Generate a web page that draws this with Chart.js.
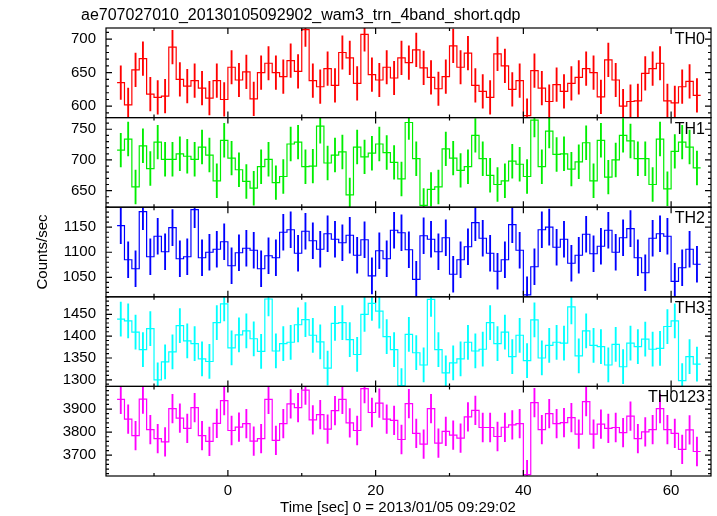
<!DOCTYPE html>
<html>
<head>
<meta charset="utf-8">
<script src="https://cdn.jsdelivr.net/npm/chart.js@4"></script>
<style>
  html, body { margin: 0; padding: 0; background: #fff; }
  canvas { display: block; }
</style>
</head>
<body>
<canvas id="grafico" width="717" height="516"></canvas>
<script>
const titulo = 'ae707027010_20130105092902_wam3_trn_4band_short.qdp'
const rotuloX = 'Time [sec] 0 = 2013/01/05 09:29:02'
const rotuloY = 'Counts/sec'

// bins de 1 s, o primeiro comeca em -15 s
const inicioBin = -15
const larguraBin = 1

const th0 = [635, 602, 654, 671, 618, 613, 615, 688, 640, 630, 638, 627, 612, 638, 610, 658, 639, 651, 611, 650,
  664, 650, 644, 668, 652, 714, 638, 629, 656, 631, 680, 672, 634, 707, 647, 639, 658, 642, 672, 665,
  684, 657, 643, 626, 644, 690, 658, 679, 631, 622, 613, 678, 660, 625, 638, 586, 653, 627, 607, 632,
  622, 634, 643, 656, 650, 614, 669, 639, 600, 607, 608, 649, 656, 664, 608, 605, 629, 637, 616]
const th1 = [716, 734, 656, 723, 686, 729, 701, 701, 710, 706, 701, 721, 708, 666, 732, 703, 684, 665, 654, 689,
  701, 663, 673, 726, 729, 689, 690, 755, 695, 708, 713, 643, 721, 705, 711, 726, 712, 696, 669, 761,
  702, 626, 652, 656, 718, 703, 683, 689, 740, 702, 675, 660, 666, 698, 693, 673, 765, 689, 747, 709,
  710, 685, 697, 728, 666, 732, 672, 700, 740, 731, 702, 702, 660, 734, 653, 714, 729, 721, 687]
const th2 = [1153, 1085, 1067, 1181, 1091, 1132, 1101, 1149, 1087, 1091, 1185, 1089, 1100, 1106, 1121, 1073, 1099, 1108, 1104, 1067,
  1093, 1089, 1140, 1145, 1098, 1142, 1123, 1106, 1137, 1126, 1119, 1134, 1094, 1125, 1053, 1103, 1087, 1144, 1139, 1105,
  1046, 1133, 1126, 1101, 1129, 1056, 1085, 1111, 1159, 1128, 1098, 1062, 1085, 1155, 1104, 1015, 1071, 1145, 1150, 1110,
  1126, 1078, 1094, 1136, 1097, 1112, 1144, 1100, 1129, 1147, 1089, 1059, 1128, 1137, 1132, 1042, 1069, 1106, 1076]
const th3 = [1439, 1435, 1409, 1369, 1417, 1300, 1341, 1364, 1424, 1389, 1383, 1348, 1342, 1431, 1474, 1373, 1403, 1412, 1394, 1365,
  1485, 1366, 1383, 1386, 1426, 1438, 1402, 1387, 1327, 1429, 1431, 1392, 1358, 1450, 1475, 1457, 1399, 1369, 1287, 1404,
  1362, 1334, 1484, 1369, 1316, 1339, 1348, 1386, 1366, 1370, 1431, 1383, 1409, 1353, 1402, 1344, 1437, 1350, 1379, 1386,
  1384, 1467, 1355, 1412, 1379, 1376, 1334, 1381, 1330, 1384, 1376, 1393, 1370, 1372, 1422, 1435, 1298, 1353, 1336]
const th0123 = [3942, 3856, 3785, 3943, 3811, 3772, 3758, 3902, 3861, 3816, 3906, 3785, 3760, 3838, 3936, 3807, 3822, 3837, 3761, 3772,
  3942, 3764, 3837, 3922, 3906, 3982, 3853, 3876, 3813, 3893, 3942, 3840, 3807, 3988, 3885, 3926, 3856, 3851, 3768, 3923,
  3795, 3748, 3902, 3752, 3803, 3787, 3774, 3866, 3894, 3820, 3820, 3781, 3821, 3831, 3837, 3616, 3928, 3811, 3880, 3837,
  3841, 3863, 3791, 3932, 3791, 3835, 3816, 3820, 3798, 3869, 3772, 3801, 3811, 3902, 3811, 3795, 3725, 3810, 3716]

const erros = [25, 27.5, 36, 39, 62]

const nomesPaineis = ['TH0', 'TH1', 'TH2', 'TH3', 'TH0123']
const cores = ['#ff0000', '#00ee00', '#0000ff', '#00ffff', '#ff00ff']
const limitesY = [[583, 716.5], [623, 769], [1011, 1190], [1285, 1490], [3610, 3998]]
const passosY = [50, 50, 50, 50, 100]
const menoresY = [10, 10, 10, 10, 20]
const limitesX = [-16.5, 65.4]
const passoX = 20
const menorX = 10

const fonte = "'Liberation Sans', Arial, Helvetica, sans-serif"
const series = [th0, th1, th2, th3, th0123]

const datasets = []
const escalas = {
  x: {
    type: 'linear',
    min: limitesX[0],
    max: limitesX[1],
    offset: false,
    grid: { display: false, drawTicks: false },
    border: { display: false },
    ticks: { stepSize: passoX, includeBounds: false, color: '#000', font: { family: fonte, size: 15 }, padding: 6, maxRotation: 0 },
    afterFit: function (escala) { escala.height = 40 }
  }
}

// no empilhamento do chart.js o ultimo eixo declarado fica em cima,
// entao os eixos vao do TH0123 (baixo) ate o TH0 (topo)
for (let p = series.length - 1; p >= 0; p--) {
  escalas['y' + p] = {
    type: 'linear',
    position: 'left',
    stack: 'paineis',
    stackWeight: 1,
    offset: false,
    min: limitesY[p][0],
    max: limitesY[p][1],
    grid: { display: false, drawTicks: false },
    border: { display: false },
    ticks: {
      stepSize: passosY[p],
      includeBounds: false,
      autoSkip: false,
      color: '#000',
      font: { family: fonte, size: 15 },
      padding: 10,
      callback: function (valor) { return String(valor) }
    },
    afterFit: function (escala) { escala.width = 106 }
  }
}

for (let p = 0; p < series.length; p++) {
  const valores = series[p]
  const eixo = 'y' + p

  const degraus = valores.map((v, i) => ({ x: inicioBin + i * larguraBin, y: v }))
  degraus.push({ x: inicioBin + valores.length * larguraBin, y: valores[valores.length - 1] })

  datasets.push({
    type: 'line',
    label: nomesPaineis[p],
    yAxisID: eixo,
    data: degraus,
    stepped: 'before',
    borderColor: cores[p],
    borderWidth: 1.2,
    pointRadius: 0,
    fill: false
  })

  datasets.push({
    type: 'bar',
    label: nomesPaineis[p] + ' err',
    yAxisID: eixo,
    grouped: false,
    barThickness: 1.2,
    backgroundColor: cores[p],
    data: valores.map((v, i) => ({ x: inicioBin + (i + 0.5) * larguraBin, y: [v - erros[p], v + erros[p]] }))
  })
}

// cada serie fica recortada dentro do seu painel
const recortePainel = {
  id: 'recortePainel',
  beforeDatasetDraw(chart, args) {
    const ctx = chart.ctx
    const area = chart.chartArea
    const s = args.meta.yScale
    ctx.save()
    ctx.beginPath()
    ctx.rect(area.left, s.top, area.right - area.left, s.bottom - s.top)
    ctx.clip()
  },
  afterDatasetDraw(chart) {
    chart.ctx.restore()
  }
}

// molduras, ticks internos e textos no estilo do qdp
const molduraQdp = {
  id: 'molduraQdp',
  afterDraw(chart) {
    const ctx = chart.ctx
    const area = chart.chartArea
    const escX = chart.scales.x
    ctx.save()
    ctx.strokeStyle = '#000'
    ctx.lineWidth = 1.2

    for (let p = 0; p < series.length; p++) {
      const s = chart.scales['y' + p]
      ctx.strokeRect(area.left, s.top, area.right - area.left, s.bottom - s.top)

      ctx.beginPath()
      for (let v = Math.ceil(limitesY[p][0] / menoresY[p]) * menoresY[p]; v <= limitesY[p][1]; v += menoresY[p]) {
        const y = s.getPixelForValue(v)
        const tam = v % passosY[p] === 0 ? 6 : 3
        ctx.moveTo(area.left, y)
        ctx.lineTo(area.left + tam, y)
        ctx.moveTo(area.right, y)
        ctx.lineTo(area.right - tam, y)
      }
      for (let t = Math.ceil(limitesX[0] / menorX) * menorX; t <= limitesX[1]; t += menorX) {
        const x = escX.getPixelForValue(t)
        const tam = t % passoX === 0 ? 6 : 3
        ctx.moveTo(x, s.top)
        ctx.lineTo(x, s.top + tam)
        ctx.moveTo(x, s.bottom)
        ctx.lineTo(x, s.bottom - tam)
      }
      ctx.stroke()

      ctx.fillStyle = '#000'
      ctx.font = '16px ' + fonte
      ctx.textAlign = 'right'
      ctx.textBaseline = 'alphabetic'
      ctx.fillText(nomesPaineis[p], area.right - 6, s.top + 16)
    }

    ctx.font = '16px ' + fonte
    ctx.textAlign = 'left'
    ctx.fillText(titulo, 81, 20)

    ctx.font = '15px ' + fonte
    ctx.textAlign = 'center'
    ctx.fillText(rotuloX, 398, 512)

    ctx.translate(47, (area.top + area.bottom) / 2)
    ctx.rotate(-Math.PI / 2)
    ctx.fillText(rotuloY, 0, 0)
    ctx.restore()
  }
}

const grafico = new Chart(document.getElementById('grafico'), {
  type: 'line',
  data: { datasets: datasets },
  options: {
    responsive: false,
    animation: false,
    devicePixelRatio: 1,
    layout: { padding: { top: 28, right: 6, left: 0, bottom: 0 } },
    scales: escalas,
    plugins: {
      legend: { display: false },
      tooltip: { enabled: false }
    }
  },
  plugins: [recortePainel, molduraQdp]
})
</script>
</body>
</html>
